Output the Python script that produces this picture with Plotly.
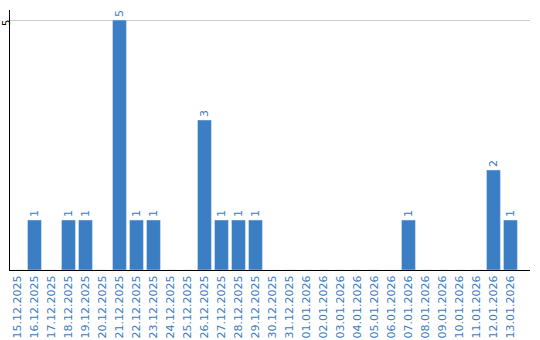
import plotly.graph_objects as go

dates = ["15.12.2025","16.12.2025","17.12.2025","18.12.2025","19.12.2025","20.12.2025",
         "21.12.2025","22.12.2025","23.12.2025","24.12.2025","25.12.2025","26.12.2025",
         "27.12.2025","28.12.2025","29.12.2025","30.12.2025","31.12.2025","01.01.2026",
         "02.01.2026","03.01.2026","04.01.2026","05.01.2026","06.01.2026","07.01.2026",
         "08.01.2026","09.01.2026","10.01.2026","11.01.2026","12.01.2026","13.01.2026"]
counts = [0,1,0,1,1,0,5,1,1,0,0,3,1,1,1,0,0,0,0,0,0,0,0,1,0,0,0,0,2,1]
y_ticks = [5]

labels = [str(c) if c > 0 else "" for c in counts]

fig = go.Figure(go.Bar(
    x=dates, y=counts, text=labels, textposition="outside", textangle=-90,
    textfont=dict(family="DejaVu Sans", size=11, color="#3a7cc2"),
    marker=dict(color="#3b7ec4"), width=0.82, cliponaxis=False,
))
for t in y_ticks:
    fig.add_annotation(x=0, xref="paper", y=t, yref="y", text=str(t), showarrow=False,
                       textangle=-90, xanchor="center", yanchor="middle",
                       xshift=-4, yshift=-3, borderpad=0,
                       font=dict(color="black", size=10, family="DejaVu Sans"))
fig.update_layout(
    width=540, height=340, margin=dict(l=10, r=10, t=10, b=70),
    plot_bgcolor="white", paper_bgcolor="white", showlegend=False,
    font=dict(family="DejaVu Sans", size=11),
    xaxis=dict(type="category", range=[-0.44, 30.15], tickangle=-90, automargin=False,
               tickfont=dict(color="#3a7cc2", size=11, family="DejaVu Sans"),
               showline=True, linecolor="black", linewidth=1, showgrid=False, ticks=""),
    yaxis=dict(range=[0, 5.2], tickvals=y_ticks, showticklabels=False, automargin=False,
               showline=True, linecolor="black", linewidth=1,
               showgrid=True, gridcolor="#cccccc", zeroline=False, ticks=""),
)
fig.write_html("out.html")
